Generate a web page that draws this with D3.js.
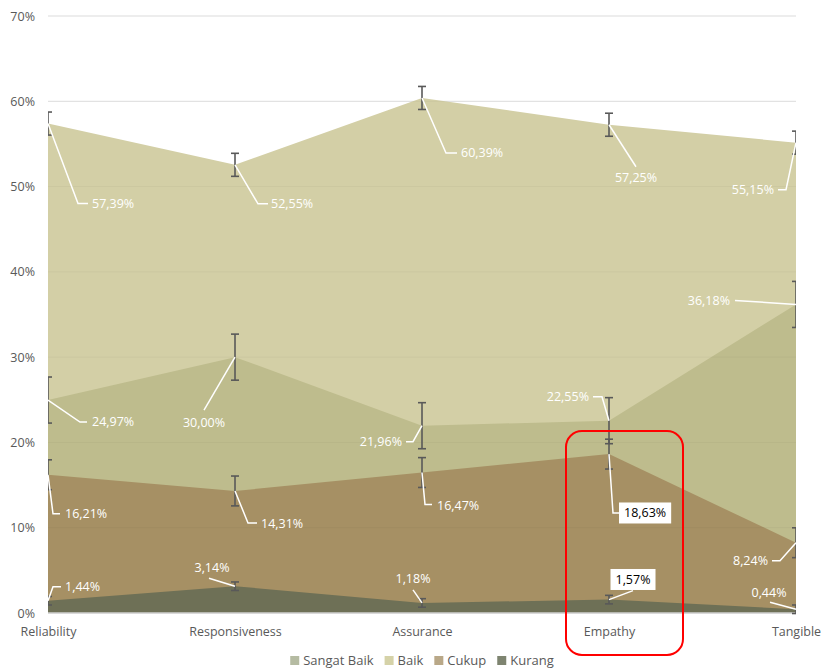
<!DOCTYPE html>
<html>
<head>
<meta charset="utf-8">
<script src="https://cdn.jsdelivr.net/npm/d3@7"></script>
<style>
  body { margin: 0; background: #fff; }
  text { font-family: "Open Sans", sans-serif; }
</style>
</head>
<body>
<div id="chart"></div>
<script>
const width = 822
const height = 670
const margin = { top: 16, right: 26, bottom: 57, left: 48 }

// data
const categories = ["Reliability", "Responsiveness", "Assurance", "Empathy", "Tangible"]
const seriesNames = ["Sangat Baik", "Baik", "Cukup", "Kurang"]
const sangatBaik = [24.97, 30.00, 21.96, 22.55, 36.18]
const baik = [57.39, 52.55, 60.39, 57.25, 55.15]
const cukup = [16.21, 14.31, 16.47, 18.63, 8.24]
const kurang = [1.44, 3.14, 1.18, 1.57, 0.44]
// standard error per series (in %)
const errSangatBaik = 2.7
const errBaik = 1.35
const errCukup = 1.75
const errKurang = 0.5
const yTicks = [0, 10, 20, 30, 40, 50, 60, 70]

// styles
const areaColor = { "Sangat Baik": "#bebc8d", "Baik": "#d3cfa6", "Cukup": "#a69064", "Kurang": "#6e7056" }
const legendColor = { "Sangat Baik": "#b5bba2", "Baik": "#d5d2a8", "Cukup": "#b9a888", "Kurang": "#7e8470" }

// label leader paths / text offsets relative to the point: [leader, tx, ty, anchor, boxed]
const labelLayout = {
  "Baik": [
    [[[0,0],[30,80],[40,80]], 44, 80, "start"],
    [[[0,0],[23,39],[33,39]], 36, 39, "start"],
    [[[0,0],[24,55],[35,55]], 39, 55, "start"],
    [[[0,0],[27,42]], 27, 53, "middle"],
    [[[0,0],[-10,47],[-18,47]], -22, 47, "end"]
  ],
  "Sangat Baik": [
    [[[0,0],[32,22],[39,22]], 44, 22, "start"],
    [[[0,0],[-31,53]], -31, 65, "middle"],
    [[[0,0],[-9,16],[-16,16]], -20, 16, "end"],
    [[[0,0],[-7,-24],[-16,-24]], -20, -24, "end"],
    [[[0,0],[-61,-4]], -66, -4, "end"]
  ],
  "Cukup": [
    [[[0,0],[5,39],[12,39]], 17, 39, "start"],
    [[[0,0],[13,32],[22,32]], 26, 33, "start"],
    [[[0,0],[3,32],[10,32]], 15, 33, "start"],
    [[[0,0],[4,59],[10,59]], 15, 59, "start", true],
    [[[0,0],[-16,18],[-24,18]], -28, 18, "end"]
  ],
  "Kurang": [
    [[[0,0],[5,-14],[13,-14]], 17, -14, "start"],
    [[[0,0],[-26,-8]], -23, -19, "middle"],
    [[[0,0],[-9,-13]], -9, -24, "middle"],
    [[[0,0],[24,-9]], 24, -20, "middle", true],
    [[[0,0],[-26,-7]], -27, -17, "middle"]
  ]
}

const seriesData = {
  "Sangat Baik": { values: sangatBaik, err: errSangatBaik },
  "Baik": { values: baik, err: errBaik },
  "Cukup": { values: cukup, err: errCukup },
  "Kurang": { values: kurang, err: errKurang }
}
const drawOrder = ["Baik", "Sangat Baik", "Cukup", "Kurang"]

const svg = d3.select("#chart").append("svg")
  .attr("width", width)
  .attr("height", height)

const x = d3.scalePoint()
  .domain(categories)
  .range([margin.left, width - margin.right])
  .padding(0)

const y = d3.scaleLinear()
  .domain([0, 70])
  .range([height - margin.bottom, margin.top])

const fmt = v => d3.format(".2f")(v).replace(".", ",") + "%"

svg.append("defs").append("clipPath")
  .attr("id", "plotClip")
  .append("rect")
  .attr("x", margin.left)
  .attr("y", 0)
  .attr("width", width - margin.left - margin.right)
  .attr("height", height)

// gridlines behind
svg.append("g")
  .selectAll("line")
  .data(yTicks)
  .join("line")
  .attr("x1", margin.left)
  .attr("x2", width - margin.right)
  .attr("y1", d => y(d))
  .attr("y2", d => y(d))
  .style("stroke", "#e3e3e3")
  .style("stroke-width", 1)

const area = d3.area()
  .x((d, i) => x(categories[i]))
  .y0(y(0))
  .y1(d => y(d))

svg.append("g")
  .selectAll("path")
  .data(drawOrder)
  .join("path")
  .attr("d", s => area(seriesData[s].values))
  .style("fill", s => areaColor[s])

// faint gridlines over areas
svg.append("g")
  .selectAll("line")
  .data(yTicks.slice(1))
  .join("line")
  .attr("x1", margin.left)
  .attr("x2", width - margin.right)
  .attr("y1", d => y(d))
  .attr("y2", d => y(d))
  .style("stroke", "#000")
  .style("stroke-opacity", 0.035)

// axis line
svg.append("line")
  .attr("x1", margin.left)
  .attr("x2", width - margin.right)
  .attr("y1", y(0))
  .attr("y2", y(0))
  .style("stroke", "#d0d0d0")
  .style("stroke-width", 1.5)

// y axis labels
const yAxis = svg.append("g")
  .attr("transform", `translate(${margin.left},0)`)
  .call(d3.axisLeft(y).tickValues(yTicks).tickSize(0).tickPadding(13).tickFormat(d => d + "%"))
yAxis.select(".domain").remove()
yAxis.selectAll("text").style("fill", "#595959").style("font-size", "12.5px")

// x axis labels
const xAxis = svg.append("g")
  .attr("transform", `translate(0,${y(0)})`)
  .call(d3.axisBottom(x).tickSize(0).tickPadding(14))
xAxis.select(".domain").remove()
xAxis.selectAll("text").style("fill", "#595959").style("font-size", "12.5px")

// error bars
const errG = svg.append("g").attr("clip-path", "url(#plotClip)")
drawOrder.forEach(s => {
  const sd = seriesData[s]
  sd.values.forEach((v, i) => {
    const cx = x(categories[i])
    const g = errG.append("g").style("stroke", "#595959").style("stroke-width", 1.6)
    g.append("line").attr("x1", cx).attr("x2", cx).attr("y1", y(v + sd.err)).attr("y2", y(v - sd.err))
    ;[v + sd.err, v - sd.err].forEach(e => {
      g.append("line").attr("x1", cx - 4).attr("x2", cx + 4).attr("y1", y(e)).attr("y2", y(e))
    })
  })
})

// data labels
const labG = svg.append("g")
drawOrder.forEach(s => {
  const sd = seriesData[s]
  sd.values.forEach((v, i) => {
    const px = x(categories[i])
    const py = y(v)
    const [leader, tx, ty, anchor, boxed] = labelLayout[s][i]
    labG.append("path")
      .attr("d", d3.line()(leader.map(p => [px + p[0], py + p[1]])))
      .style("fill", "none")
      .style("stroke", "#fff")
      .style("stroke-width", 1.5)
    const t = labG.append("text")
      .attr("x", px + tx)
      .attr("y", py + ty)
      .attr("dy", "0.35em")
      .attr("text-anchor", anchor)
      .style("font-size", "12.5px")
      .style("fill", boxed ? "#000" : "#fff")
      .text(fmt(v))
    if (boxed) {
      const bb = t.node().getBBox()
      labG.insert("rect", () => t.node())
        .attr("x", bb.x - 5)
        .attr("y", bb.y - 2)
        .attr("width", bb.width + 10)
        .attr("height", bb.height + 4)
        .style("fill", "#fff")
    }
  })
})

// highlight box around Empathy
svg.append("rect")
  .attr("x", x("Empathy") - 43)
  .attr("y", 431)
  .attr("width", 117)
  .attr("height", 224)
  .attr("rx", 16)
  .style("fill", "none")
  .style("stroke", "#ff0000")
  .style("stroke-width", 2)

// legend
const legend = svg.append("g")
let lx = 0
seriesNames.forEach(s => {
  const g = legend.append("g").attr("transform", `translate(${lx},0)`)
  g.append("rect").attr("x", 0).attr("y", -4).attr("width", 9).attr("height", 9).style("fill", legendColor[s])
  const t = g.append("text").attr("x", 13).attr("dy", "0.35em").style("font-size", "13px").style("fill", "#595959").text(s)
  lx += 13 + t.node().getComputedTextLength() + 11
})
const lw = lx - 11
legend.attr("transform", `translate(${(margin.left + width - margin.right) / 2 - lw / 2},660)`)
</script>
</body>
</html>
